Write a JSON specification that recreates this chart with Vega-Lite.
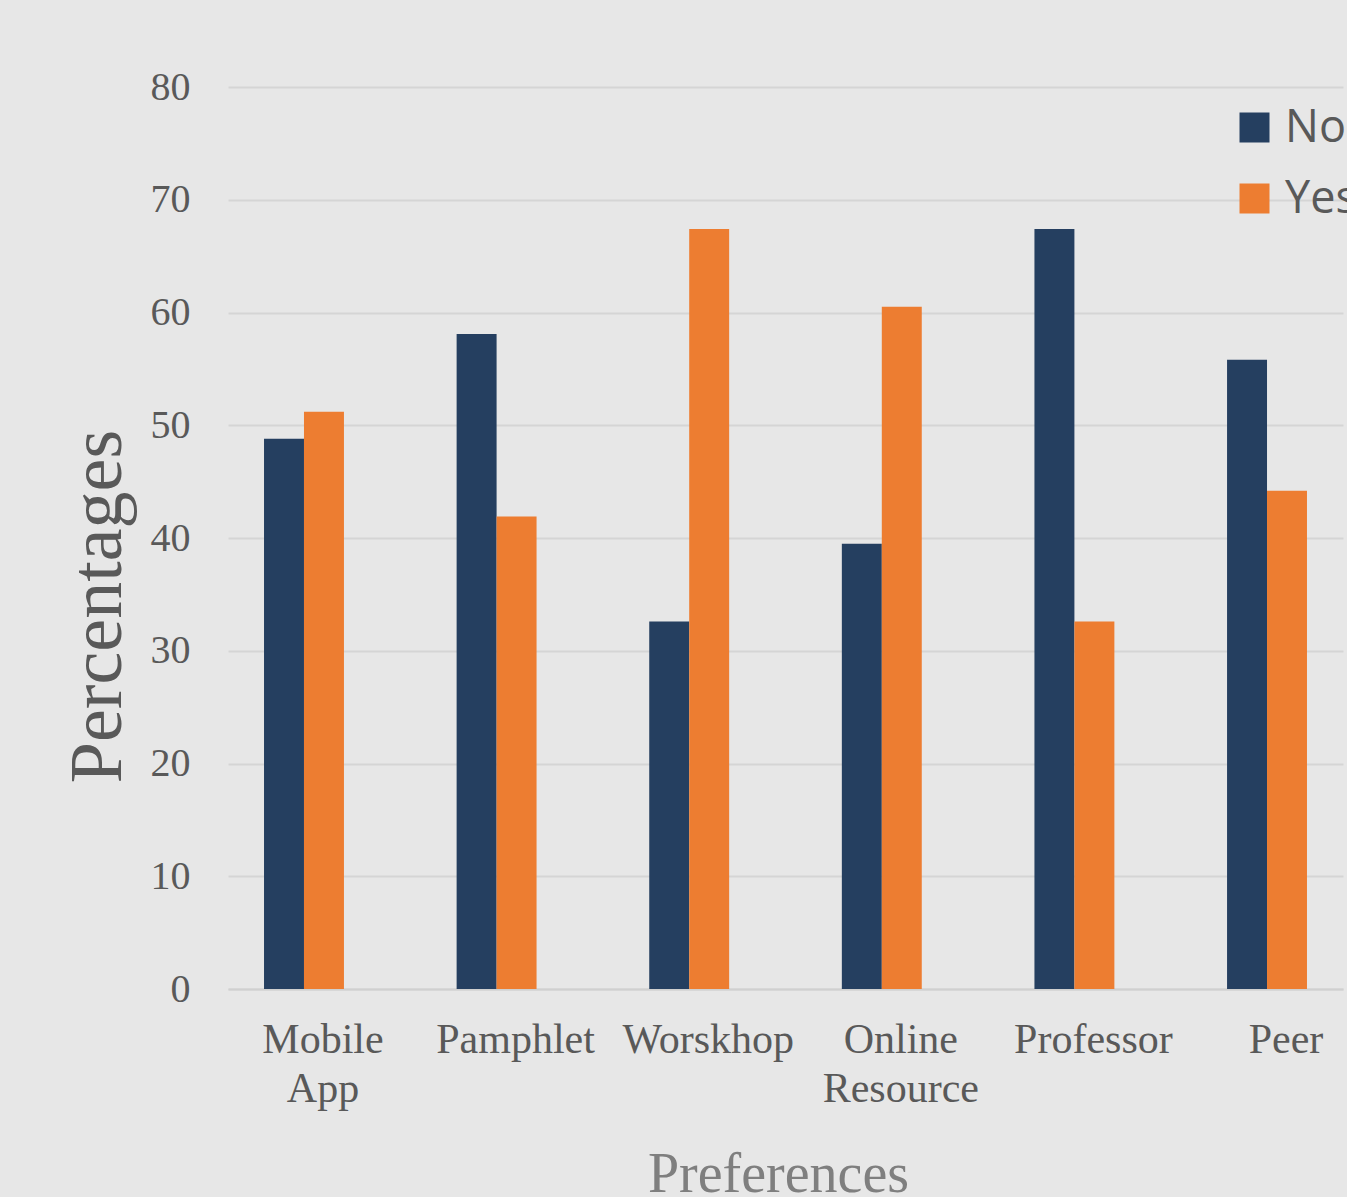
{
  "$schema": "https://vega.github.io/schema/vega-lite/v6.json",
  "autosize": {"type": "none"},
  "padding": {"left": 228, "top": 87, "right": 4, "bottom": 208},
  "width": 1115,
  "height": 902,
  "background": "#e7e7e7",
  "config": {
    "view": {"stroke": null},
    "axis": {"labelColor": "#595959", "titleColor": "#595959", "labelFont": "Liberation Serif", "titleFont": "Liberation Serif", "titleFontWeight": "normal"}
  },
  "data": {
    "values": [
      {"preference": "Mobile App", "response": "No", "pct": 48.8},
      {"preference": "Mobile App", "response": "Yes", "pct": 51.2},
      {"preference": "Pamphlet", "response": "No", "pct": 58.1},
      {"preference": "Pamphlet", "response": "Yes", "pct": 41.9},
      {"preference": "Worskhop", "response": "No", "pct": 32.6},
      {"preference": "Worskhop", "response": "Yes", "pct": 67.4},
      {"preference": "Online Resource", "response": "No", "pct": 39.5},
      {"preference": "Online Resource", "response": "Yes", "pct": 60.5},
      {"preference": "Professor", "response": "No", "pct": 67.4},
      {"preference": "Professor", "response": "Yes", "pct": 32.6},
      {"preference": "Peer", "response": "No", "pct": 55.8},
      {"preference": "Peer", "response": "Yes", "pct": 44.2}
    ]
  },
  "mark": {"type": "bar"},
  "encoding": {
    "x": {
      "field": "preference",
      "type": "nominal",
      "sort": ["Mobile App", "Pamphlet", "Worskhop", "Online Resource", "Professor", "Peer"],
      "scale": {"paddingInner": 0.585, "paddingOuter": 0.187},
      "axis": {
        "title": "Preferences",
        "titleFontSize": 56,
        "titleColor": "#7f7f7f",
        "titleX": 550,
        "titleY": 202,
        "titleBaseline": "alphabetic",
        "labelAngle": 0,
        "labelFontSize": 42,
        "labelPadding": 30,
        "labelOffset": 19,
        "labelLineHeight": 49,
        "labelExpr": "datum.value == 'Mobile App' ? ['Mobile', 'App'] : datum.value == 'Online Resource' ? ['Online', 'Resource'] : datum.value",
        "ticks": false,
        "domainColor": "#d0d0d0",
        "domainWidth": 2,
        "grid": false
      }
    },
    "xOffset": {
      "field": "response",
      "type": "nominal",
      "scale": {"paddingInner": 0, "paddingOuter": 0}
    },
    "y": {
      "field": "pct",
      "type": "quantitative",
      "scale": {"domain": [0, 80], "nice": false},
      "axis": {
        "title": "Percentages",
        "titleFontSize": 74,
        "titleX": -108,
        "titleY": 519,
        "titleAngle": 270,
        "titleAlign": "center",
        "titleBaseline": "alphabetic",
        "values": [0, 10, 20, 30, 40, 50, 60, 70, 80],
        "labelFontSize": 40,
        "labelPadding": 38,
        "ticks": false,
        "domain": false,
        "gridColor": "#d5d5d5",
        "gridWidth": 2
      }
    },
    "color": {
      "field": "response",
      "type": "nominal",
      "scale": {"domain": ["No", "Yes"], "range": ["#253f60", "#ed7d31"]},
      "legend": {
        "title": null,
        "orient": "none",
        "legendX": 1004,
        "legendY": 18,
        "padding": 0,
        "symbolType": "square",
        "symbolSize": 900,
        "symbolStrokeWidth": 0,
        "labelFont": "Open Sans",
        "labelFontSize": 45,
        "labelColor": "#595959",
        "labelOffset": 8,
        "rowPadding": 25
      }
    }
  }
}
